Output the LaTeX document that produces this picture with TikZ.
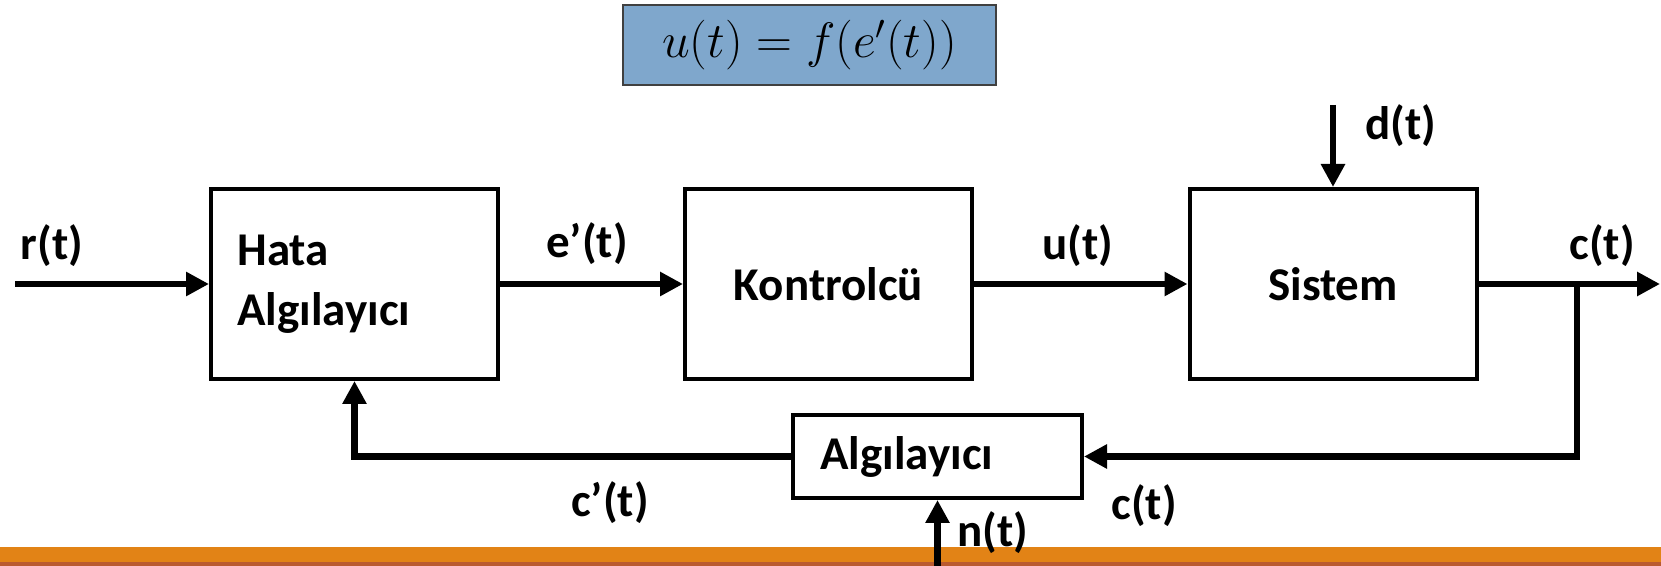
\documentclass[tikz,border=0pt]{standalone}
\usepackage{fontspec}
\setmainfont{Carlito}
\usetikzlibrary{arrows.meta}

\definecolor{eqblue}{RGB}{127,167,204}
\definecolor{barorange}{RGB}{226,131,22}
\definecolor{barbrown}{RGB}{186,90,48}
\newcommand{\lblfnt}{\fontsize{23.5}{30}\selectfont\bfseries}

\tikzset{
  blk/.style={draw, line width=2pt, minimum width=143.5pt, minimum height=95pt, font=\lblfnt},
  blkleft/.style={blk, align=left, text width=117pt, inner xsep=11pt},
  sig/.style={line width=3.3pt, -{Triangle[length=11.5pt,width=11.5pt]}},
  lbl/.style={font=\lblfnt},
}

\begin{document}
\begin{tikzpicture}[x=0.5pt, y=-0.5pt]
  \useasboundingbox (0,0) rectangle (1661,566);

  % 1. 底部色条 (最底层)
  \fill[barorange] (0,547) rectangle (1661,566);
  \fill[barbrown] (0,562) rectangle (1661,566);

  % 2. 方框
  \node[blkleft] (hata) at (354.5,284) {Hata\\Algılayıcı};
  \node[blk] (kontrol) at (828.5,284) {Kontrolcü};
  \node[blk] (sistem) at (1333,284) {Sistem};
  \node[blkleft, minimum width=144.5pt, minimum height=41.5pt] (sensor) at (937.5,456.5) {Algılayıcı};
  \node[draw=black!75, fill=eqblue, line width=0.75pt, minimum width=186.5pt, minimum height=40pt,
        font=\fontsize{27}{32}\selectfont] (eqn) at (809.5,45) {$u(t)=f(e'(t))$};

  % 3. 端点
  \coordinate (rin) at (15,284);
  \coordinate (din) at (1333,105);
  \coordinate (cout) at (1660,284);
  \coordinate (branch) at (1577,284);
  \coordinate (nin) at (937.5,566);

  % 4. 信号线
  \draw[sig] (rin) -- (hata.west);
  \draw[sig] (hata.east) -- (kontrol.west);
  \draw[sig] (kontrol.east) -- (sistem.west);
  \draw[sig] (din) -- (sistem.north);
  \draw[sig] (sistem.east) -- (cout);
  \draw[sig] (branch) |- (sensor.east); % 反馈
  \draw[sig] (sensor.west) -| (hata.south);
  \draw[sig] (nin) -- (sensor.south);

  % 5. 信号标号
  \node[lbl] (rlbl) at (52,246) {r(t)};
  \node[lbl] (elbl) at (587,244) {e’(t)};
  \node[lbl] (ulbl) at (1078,246) {u(t)};
  \node[lbl] (clbl) at (1602,246) {c(t)};
  \node[lbl] (dlbl) at (1401,126) {d(t)};
  \node[lbl] (cplbl) at (610,503) {c’(t)};
  \node[lbl] (cfblbl) at (1144,506) {c(t)};
  \node[lbl] (nlbl) at (993,533) {n(t)};
\end{tikzpicture}
\end{document}
